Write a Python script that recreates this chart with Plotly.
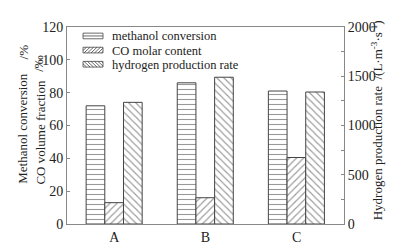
import plotly.graph_objects as go

categories = ["A", "B", "C"]
methanol_conversion = [72, 86, 81]
co_molar_content = [13, 16, 40.5]
hydrogen_rate = [1235, 1490, 1340]
series_names = ["methanol conversion", "CO molar content", "hydrogen production rate"]

FONT = "Liberation Serif"
TXT = "#222222"
L, R, T, B = 59, 63, 16, 24
W, H = 399, 249
PW, PH = W - L - R, H - T - B

fig = go.Figure()

def pat(shape):
    return dict(shape=shape, fgcolor="#333333", bgcolor="white", size=5, solidity=0.22)

fig.add_trace(go.Bar(x=categories, y=methanol_conversion, name=series_names[0],
                     width=0.205, offset=-0.31, showlegend=False,
                     marker=dict(color="white", pattern=pat("-"), line=dict(color="#444444", width=1))))
fig.add_trace(go.Bar(x=categories, y=co_molar_content, name=series_names[1],
                     width=0.205, offset=-0.105, showlegend=False,
                     marker=dict(color="white", pattern=pat("/"), line=dict(color="#444444", width=1))))
fig.add_trace(go.Bar(x=categories, y=hydrogen_rate, name=series_names[2],
                     width=0.205, offset=0.1, yaxis="y2", showlegend=False,
                     marker=dict(color="white", pattern=pat("\\"), line=dict(color="#444444", width=1))))

axcol = "#888888"
fig.update_layout(
    width=W, height=H,
    margin=dict(l=L, r=R, t=T, b=B),
    paper_bgcolor="white", plot_bgcolor="white",
    barmode="overlay",
    font=dict(family=FONT, size=14, color=TXT),
    showlegend=False,
    xaxis=dict(range=[-0.52, 2.52], showline=True, linecolor=axcol, linewidth=1, mirror=True,
               ticks="", showgrid=False, tickfont=dict(size=14)),
    yaxis=dict(range=[0, 120], dtick=20, showline=True, linecolor=axcol, linewidth=1,
               ticks="inside", ticklen=3, tickcolor=axcol, showgrid=False, zeroline=False,
               tickfont=dict(size=14)),
    yaxis2=dict(range=[0, 2000], dtick=500, overlaying="y", side="right", showline=True,
                linecolor=axcol, linewidth=1, ticks="inside", ticklen=3, tickcolor=axcol,
                minor=dict(dtick=250, ticks="inside", ticklen=3, tickcolor=axcol),
                showgrid=False, zeroline=False, tickfont=dict(size=14)),
)

def px(xp, yp):
    return (xp - L) / PW, (H - B - yp) / PH

ann = dict(xref="paper", yref="paper", showarrow=False, textangle=-90,
           xanchor="center", yanchor="middle", font=dict(family=FONT, size=13, color=TXT))
for text, (xp, yp) in [("Methanol conversion", (15, 124)), ("/%", (15, 43)),
                       ("CO volume fraction", (33, 128)), ("/‰", (31, 55)),
                       ("Hydrogen production rate  /(L·m<sup>-3</sup>·s<sup>-1</sup>)", (369, 115))]:
    x, y = px(xp, yp)
    fig.add_annotation(text=text, x=x, y=y, **ann)

# manual legend (swatches drawn as shapes, labels as text)
sw_x0, sw_x1 = 75, 95
rows = [25.5, 40.5, 55.5]
kinds = ["-", "/", "\\"]
lc = dict(color="#444444", width=0.8)
for name, yc, kind in zip(series_names, rows, kinds):
    y0p, y1p = yc - 3, yc + 3
    xa, ya = px(sw_x0, y1p)
    xb, yb = px(sw_x1, y0p)
    fig.add_shape(type="rect", xref="paper", yref="paper", x0=xa, y0=ya, x1=xb, y1=yb,
                  line=lc, fillcolor="white")
    if kind == "-":
        xm0, ym = px(sw_x0, yc)
        xm1, _ = px(sw_x1, yc)
        fig.add_shape(type="line", xref="paper", yref="paper", x0=xm0, y0=ym, x1=xm1, y1=ym, line=lc)
    else:
        step = 3.5
        xs = sw_x0 - 6
        while xs < sw_x1:
            if kind == "/":
                p0 = (xs, y1p); p1 = (xs + 6, y0p)
            else:
                p0 = (xs, y0p); p1 = (xs + 6, y1p)
            (ax, ay), (bx, by) = p0, p1
            if ax < sw_x0:
                t = (sw_x0 - ax) / (bx - ax); ay = ay + t * (by - ay); ax = sw_x0
            if bx > sw_x1:
                t = (sw_x1 - ax) / (bx - ax); by = ay + t * (by - ay); bx = sw_x1
            if bx > ax:
                u0, v0 = px(ax, ay); u1, v1 = px(bx, by)
                fig.add_shape(type="line", xref="paper", yref="paper", x0=u0, y0=v0, x1=u1, y1=v1, line=lc)
            xs += step
    xt, yt = px(102, yc + 0.5)
    fig.add_annotation(text=name, x=xt, y=yt, xref="paper", yref="paper", showarrow=False,
                       xanchor="left", yanchor="middle", font=dict(family=FONT, size=12.5, color=TXT))

fig.write_html("out.html")
